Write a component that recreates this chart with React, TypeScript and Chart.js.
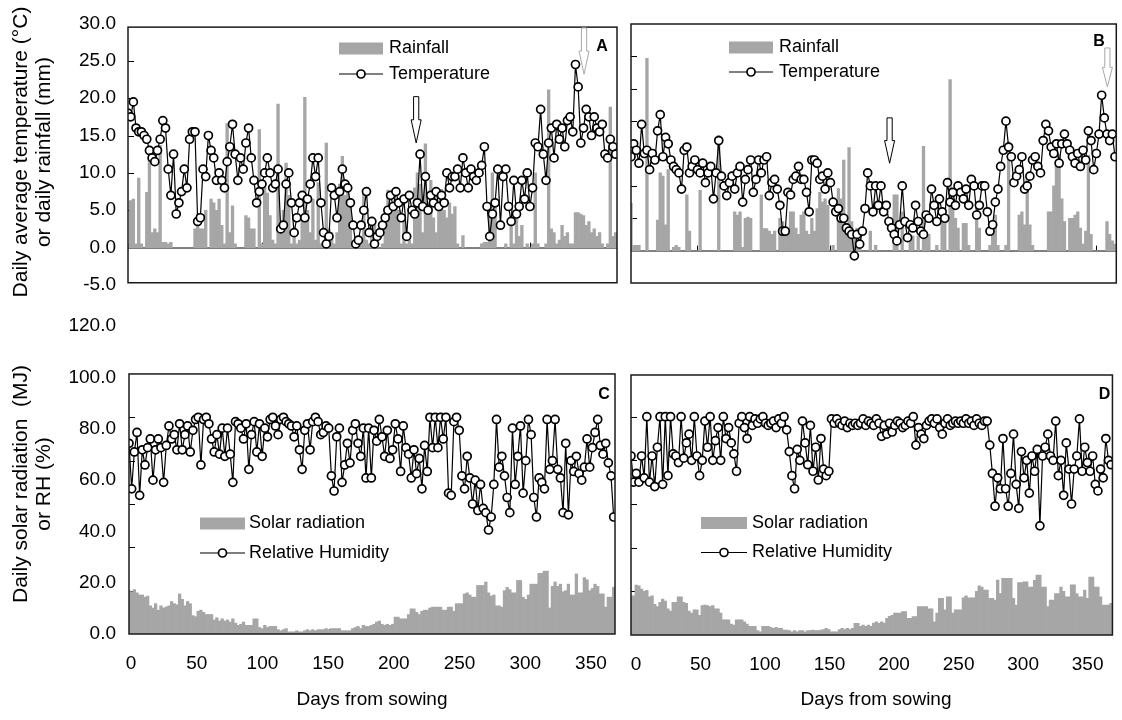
import React, { useEffect, useRef } from "react";
import { Chart, registerables } from "chart.js";

Chart.register(...registerables);

const FONT = '"Liberation Sans", Arial, Helvetica, sans-serif';
const GRAY = "#a6a6a6";

// Days from sowing (sampled every second day)
const days = Array.from({ length: 183 }, (_, i) => i * 2);
const xTickValues = [0, 50, 100, 150, 200, 250, 300, 350];
const tempTickValues = [-5, 0, 5, 10, 15, 20, 25, 30];
const solarTickValues = [0, 20, 40, 60, 80, 100, 120];
const tempMarkValues = [5, 10, 15, 20, 25];
const tempMarkValuesB = [5, 10, 15, 20, 25, 30];
const solarMarkValues = [20, 40, 60, 80, 100];
const xMarkValues = [50, 100, 150, 200, 250, 300, 350];

// Panel A
const tempA = [
  18, 17.5, 19.5, 16, 15.5, 15.5, 15, 14.5, 13, 12,
  11.5, 13, 14.5, 17, 16, 10.5, 7, 12.5, 4.5, 6,
  7.5, 10.5, 8, 14.5, 15.5, 15.5, 3.5, 4, 10.5, 9.5,
  15, 13, 12, 9, 10, 9, 8, 11.5, 13.5, 16.5,
  12.5, 9, 12, 10.5, 14, 16, 12, 9, 6, 7.5,
  8.5, 10, 12, 10, 8, 8.5, 10.5, 2.5, 3, 8.5,
  10, 6, 2, 4, 6, 7, 4, 6.5, 8.5, 12,
  9.5, 12, 6, 2, 0.5, 1.5, 8, 7, 4, 7.5,
  10.5, 8.5, 8, 6, 3, 0.5, 1, 3, 5, 7.5,
  2, 3.5, 0.5, 1.5, 2, 3, 4, 5, 7, 5.5,
  7.5, 6, 4, 6.5, 1.5, 7, 5, 4.5, 6, 12.5,
  5.5, 9.5, 5, 7, 6, 7.5, 5.5, 7, 6, 10,
  8, 9.5, 9.5, 10.5, 8, 12, 10, 8, 10.5, 9.5,
  9, 10, 11, 13.5, 5.5, 1.5, 4.5, 6, 10.5, 3,
  9.5, 10.5, 5.5, 3.5, 9, 4.5, 5.5, 9, 6.5, 10,
  5.5, 8, 14, 13.5, 18.5, 12.5, 9, 14, 16, 12,
  16.5, 14.5, 16, 13.5, 17, 17.5, 15.5, 24.5, 21.5, 14,
  16, 18.5, 17.5, 15, 17.5, 16, 15.5, 16.5, 12.5, 12,
  14.5, 13.5, 12.5,
];
const rainA = [
  0.5, 6.3, 6.5, 0.5, 9.3, 0.5, 0, 7.4, 12, 2,
  2.5, 2, 13.7, 0.7, 0.7, 0.5, 0.7, 0, 0, 0,
  0, 0, 0, 0, 0, 2.5, 4.5, 2.5, 2.5, 5,
  0, 6.5, 6, 5, 6.5, 3, 0.5, 16.6, 2, 5.6,
  0.5, 0, 0, 0, 4.3, 4, 2.5, 2.5, 0, 15.8,
  0.5, 8, 7.3, 4.3, 1, 0.5, 19.2, 3, 5, 11.3,
  7, 0.5, 2, 0.5, 1, 4, 20.1, 5, 2, 6.5,
  1, 8.7, 0.5, 0, 14, 2.5, 2, 0.5, 2, 8.5,
  12.2, 7, 8.5, 6, 0.5, 0, 0.5, 1, 7.8, 1,
  0.5, 4, 3, 0.5, 0, 0.5, 5, 7.7, 6, 5.5,
  6.5, 5, 0.5, 4, 0.5, 1, 0.5, 8, 10, 8.5,
  2, 13.9, 5, 9, 4, 2, 6, 7.8, 5, 4,
  6, 4.5, 5.5, 0.5, 0, 1.6, 0, 0, 0, 0,
  0, 0, 0.5, 0.7, 0.7, 5, 10, 6, 0, 0,
  0, 0.5, 0, 3, 0.5, 4, 1.5, 3, 0, 0.5,
  0, 0.5, 10, 0.5, 0, 0, 0.5, 21.1, 2.5, 2,
  0.5, 1, 3, 1.5, 2, 0.5, 0.5, 4.7, 4.7, 4.5,
  4.3, 3, 3.5, 2, 2.5, 1.5, 2, 0.5, 0, 0.5,
  18.8, 1.5, 2,
];

// Panel B
const tempB = [
  14.5, 16.5, 15.5, 13.5, 19.5, 15, 15.5, 12.5, 15, 14,
  18.5, 21, 14.5, 17.5, 16.5, 14, 13, 12.5, 12, 9.5,
  15.5, 16, 12, 13, 14, 12.5, 12, 13.5, 10.5, 12,
  13, 8, 12, 17, 11.5, 10, 8.5, 10.5, 11.5, 9.5,
  12, 13, 7.5, 11, 12.5, 14, 9, 11, 14, 12,
  14, 14.5, 8.5, 10.5, 11, 9.5, 7, 3, 3, 9,
  8.6, 11, 11.5, 13, 11, 11, 9, 6, 14, 14,
  13.5, 11, 11.5, 9.5, 12, 10.5, 7.5, 6, 6.5, 5,
  5, 3.5, 3, 2.5, -0.8, 2.5, 1, 3, 6.5, 12,
  10, 6, 10, 7, 10, 6, 7, 4.5, 3.5, 2.5,
  1.5, 4, 10, 4.5, 2, 4, 3.5, 7, 4.5, 3,
  2.5, 5.5, 5, 9.5, 7, 4.5, 8, 6, 5, 10.5,
  7.5, 9, 7, 10, 9, 8, 9.5, 7, 11, 10,
  5.5, 7, 10, 10, 6, 3, 4, 7.5, 9.5, 13,
  15.5, 20, 16, 14.5, 10.5, 11.5, 12.5, 14.5, 9.5, 10,
  11.5, 14, 14.5, 13, 12, 17, 19.5, 18.5, 16, 15,
  16.5, 13.5, 16.5, 18, 16.5, 15.5, 14.5, 13.5, 15, 13,
  15.5, 14, 18.5, 17, 12.5, 15, 18, 24, 20.5, 18,
  17, 18, 14.5,
];
const rainB = [
  7.3, 0.8, 0.8, 0.8, 0, 0, 29.7, 0, 0, 0,
  4.7, 12, 11.5, 4, 12.5, 0, 0.5, 0.8, 0.5, 0,
  0, 8.6, 3, 0, 0, 0, 9.3, 0, 0, 0,
  0, 0, 0, 17.8, 0, 0, 0, 0, 0, 6,
  5.5, 6, 0.5, 5, 5.2, 5, 0, 0, 0, 8.6,
  3.4, 3.4, 3, 2.5, 3, 0, 5, 4.5, 3.5, 3,
  6, 6, 3.5, 2.5, 5.5, 6, 3, 2.5, 5, 3,
  6.5, 9, 7.5, 8, 7, 0, 0.8, 0, 9.6, 8,
  14, 3.5, 15.9, 4.5, 3, 3.5, 2.5, 0, 0, 0,
  3, 0, 0.8, 0, 0, 0, 0, 0, 0, 8.6,
  8.6, 0, 6, 0, 0, 2.3, 2.3, 0, 2.3, 0,
  16.1, 2.5, 2.5, 0, 0, 0.8, 0, 5.5, 5.5, 0,
  26.4, 8.2, 5, 3.5, 0, 4.2, 4.2, 0.8, 0, 0,
  5, 3.5, 0, 0, 0, 0.8, 3, 5.5, 0.8, 0,
  0, 0.8, 16.8, 0, 0, 0, 5.5, 6, 4, 11.2,
  4, 0.8, 0, 0, 0, 0, 0, 6, 6, 10,
  14, 14.8, 8, 4.5, 0, 5, 5, 5.5, 6, 3.5,
  1, 3, 14.7, 2.5, 0, 0, 0, 0, 0, 4.5,
  2.5, 1.5, 1,
];

// Panel C
const rhC = [
  88, 67, 84, 93, 64, 85, 78, 86, 90, 71,
  85, 90, 86, 70, 87, 96, 90, 92, 85, 97,
  85, 92, 96, 84, 94, 99, 100, 78, 99, 100,
  97, 90, 84, 92, 83, 95, 82, 95, 83, 70,
  98, 97, 95, 90, 97, 76, 92, 98, 84, 97,
  82, 95, 91, 99, 100, 96, 92, 99, 100, 98,
  97, 96, 91, 96, 85, 76, 94, 97, 85, 98,
  100, 98, 92, 93, 96, 95, 73, 66, 91, 95,
  70, 78, 88, 79, 94, 97, 88, 82, 95, 72,
  95, 72, 94, 89, 99, 91, 82, 94, 81, 85,
  97, 90, 75, 96, 86, 83, 72, 85, 74, 81,
  67, 87, 75, 100, 86, 100, 86, 100, 90, 100,
  65, 64, 98, 100, 94, 73, 67, 82, 72, 60,
  71, 57, 69, 58, 56, 48, 54, 69, 99, 77,
  82, 73, 63, 56, 95, 69, 82, 96, 65, 80,
  99, 92, 63, 54, 72, 70, 67, 99, 76, 80,
  99, 76, 72, 56, 88, 55, 80, 75, 82, 74,
  71, 77, 90, 77, 86, 93, 99, 87, 83, 88,
  79, 73, 54,
];
const solarC = [
  20, 19.5, 20.5, 19, 18, 18, 17, 17.5, 13, 12,
  14, 11, 13, 12, 12.5, 13, 15, 14, 13.5, 18.5,
  16, 13, 15, 14, 8.5, 8, 10.5, 11, 10, 9,
  9, 9, 6.5, 7.5, 6, 7, 6, 6.5, 5.5, 7,
  5, 4, 4.5, 5.5, 4, 4, 4, 7, 7, 3,
  2.5, 4, 3, 3.5, 3.5, 3.5, 2, 1.5, 2, 2.5,
  1, 1, 1, 1.5, 1, 1, 1.5, 2, 1.5, 2,
  1.5, 2, 2, 2, 2.5, 2, 2.5, 2.5, 2.5, 2.5,
  1.5, 1.5, 1.5, 1.5, 2.5, 3, 3.5, 2.5, 4, 3.5,
  3.5, 4, 4.5, 5.5, 6, 4.5, 4, 4.5, 4, 4.5,
  7.8, 7.8, 7, 7, 7, 9, 11.6, 11.6, 10, 9,
  10.5, 11, 11, 12, 12.4, 12.4, 12.4, 12.4, 11, 11,
  12.4, 12.4, 10.5, 14, 14, 14, 18.5, 19, 18, 17,
  17, 22.4, 22.4, 22.4, 24, 19, 17.5, 18, 13, 13,
  12.4, 20, 21.5, 20.5, 19, 19, 24.7, 24.7, 17, 16,
  18, 23, 23, 23, 28, 28, 29, 29, 12, 22,
  24, 22, 23, 19.5, 20, 23, 18, 18, 27.7, 19,
  19, 26, 25, 20, 21, 23, 22, 18.5, 18.5, 12.4,
  17, 17, 21.6,
];

// Panel D
const rhD = [
  82, 70, 74, 70, 82, 72, 100, 70, 82, 68,
  86, 100, 69, 100, 73, 100, 83, 82, 79, 100,
  81, 88, 92, 80, 100, 82, 73, 80, 98, 86,
  100, 80, 89, 95, 80, 100, 90, 95, 88, 83,
  75, 97, 100, 95, 90, 100, 96, 99, 97, 99,
  100, 97, 96, 97, 98, 95, 99, 97, 100, 94,
  84, 73, 67, 85, 80, 98, 88, 78, 96, 75,
  86, 71, 90, 76, 73, 75, 99, 97, 99, 97,
  96, 98, 95, 97, 96, 97, 96, 97, 99, 96,
  98, 97, 96, 99, 97, 91, 96, 92, 97, 93,
  96, 98, 97, 95, 96, 98, 97, 100, 87, 95,
  92, 90, 96, 98, 99, 97, 99, 95, 92, 97,
  99, 96, 97, 98, 97, 98, 97, 99, 97, 98,
  96, 99, 97, 96, 98, 98, 87, 74, 59, 72,
  67, 90, 67, 59, 74, 92, 69, 58, 84, 72,
  80, 65, 82, 75, 85, 50, 82, 86, 92, 82,
  80, 98, 73, 80, 64, 88, 76, 60, 76, 82,
  99, 75, 86, 79, 75, 82, 69, 66, 76, 72,
  90, 80, 78,
];
const solarD = [
  18, 18, 22.9, 22.5, 21, 20, 20.5, 17.5, 18, 14,
  13, 15, 16.5, 15.5, 12, 11, 15, 15, 17.5, 17.5,
  15, 14.5, 11, 10, 11.5, 11.5, 9, 13.5, 13.7, 13.5,
  13, 13.5, 12, 12, 10, 7, 7, 7, 5, 4.5,
  7, 7, 7, 6, 5, 4, 4, 4, 2, 1.5,
  4, 4, 4, 3.5, 3, 3.5, 3, 3, 2.3, 2.3,
  2, 1.5, 2, 1.5, 2, 2, 1.5, 2, 2, 2.3,
  2, 2, 2.3, 2.5, 3, 2.5, 1.5, 1.5, 1.5, 2.5,
  3, 2.5, 3, 2.5, 3, 5.3, 5.3, 4, 4.5, 4,
  4.5, 4, 5.5, 6, 5.3, 6, 5.5, 7.6, 8.5, 9,
  10, 10, 10, 10.7, 10.7, 7.6, 7.6, 8.4, 8.4, 13,
  13, 13, 13, 12, 12, 6, 10, 16.8, 16.8, 11.5,
  17.5, 17.5, 10, 11.5, 11.5, 11.5, 17, 18, 17, 17,
  17, 20, 22.5, 22, 20.6, 20.6, 16.8, 16.8, 16, 25.2,
  19, 26, 26, 26, 26, 16.8, 13.7, 24, 24, 24.4,
  24.4, 22, 22, 25, 27.5, 27.5, 22, 22, 13, 16,
  16, 19, 19, 22, 20, 17.5, 17.5, 23, 23, 19,
  17.5, 17.5, 20.6, 16.8, 26.5, 26.5, 22, 22, 17.5, 13.7,
  13.7, 13.7, 14.5,
];

type Arrow = { day: number; top: number; tip: number; color: string };
type Txt = { text: string; x: number; y: number; size: number; bold?: boolean; rotate?: boolean; align?: CanvasTextAlign };
type Legend = { bar: string; line: string; sx: number; w: number; r1: number; r2: number; tx: number };
type Spec = {
  frameTop?: number;
  frameBottom?: number;
  zeroLine?: boolean;
  yMarks: number[];
  xMarks: number[];
  legend: Legend;
  arrows: Arrow[];
  texts: Txt[];
};

const POINT_R = 4;
const POINT_BW = 1.7;

function makeDecor(spec: Spec) {
  return {
    id: "decor",
    beforeDatasetsDraw(chart: any) {
      const { ctx, chartArea: ca } = chart;
      const xs = chart.scales.x;
      const ys = chart.scales.y;
      const bottom = spec.frameBottom !== undefined ? ys.getPixelForValue(spec.frameBottom) : ca.bottom;
      ctx.save();
      ctx.strokeStyle = "#000";
      ctx.lineWidth = 1;
      for (const v of spec.yMarks) {
        const py = Math.round(ys.getPixelForValue(v)) + 0.5;
        ctx.beginPath();
        ctx.moveTo(ca.left, py);
        ctx.lineTo(ca.left + 6, py);
        ctx.stroke();
      }
      const base = spec.zeroLine ? ys.getPixelForValue(0) : bottom;
      for (const v of spec.xMarks) {
        const px = Math.round(xs.getPixelForValue(v)) + 0.5;
        ctx.beginPath();
        ctx.moveTo(px, base);
        ctx.lineTo(px, base - 5);
        ctx.stroke();
      }
      if (spec.zeroLine) {
        ctx.lineWidth = 1.5;
        ctx.beginPath();
        ctx.moveTo(ca.left, base);
        ctx.lineTo(ca.right, base);
        ctx.stroke();
      }
      ctx.restore();
    },
    afterDatasetsDraw(chart: any) {
      const { ctx, chartArea: ca } = chart;
      const xs = chart.scales.x;
      const ys = chart.scales.y;
      const top = spec.frameTop !== undefined ? ys.getPixelForValue(spec.frameTop) : ca.top;
      const bottom = spec.frameBottom !== undefined ? ys.getPixelForValue(spec.frameBottom) : ca.bottom;
      ctx.save();
      // frame
      ctx.strokeStyle = "#1a1a1a";
      ctx.lineWidth = 1.5;
      ctx.strokeRect(ca.left, top, ca.right - ca.left, bottom - top);
      // arrows
      for (const a of spec.arrows) {
        const cx = xs.getPixelForValue(a.day);
        const ty = ys.getPixelForValue(a.top);
        const tipY = ys.getPixelForValue(a.tip);
        const sy = tipY - (tipY - ty) * 0.5;
        const sw = 2.6;
        const hw = 5;
        ctx.beginPath();
        ctx.moveTo(cx - sw, ty);
        ctx.lineTo(cx + sw, ty);
        ctx.lineTo(cx + sw, sy);
        ctx.lineTo(cx + hw, sy);
        ctx.lineTo(cx, tipY);
        ctx.lineTo(cx - hw, sy);
        ctx.lineTo(cx - sw, sy);
        ctx.closePath();
        ctx.fillStyle = "#fff";
        ctx.fill();
        ctx.strokeStyle = a.color;
        ctx.lineWidth = 1;
        ctx.stroke();
      }
      // legend
      const lg = spec.legend;
      ctx.fillStyle = GRAY;
      ctx.fillRect(lg.sx, lg.r1 - 6, lg.w, 12);
      ctx.strokeStyle = "#000";
      ctx.lineWidth = 1.2;
      ctx.beginPath();
      ctx.moveTo(lg.sx, lg.r2);
      ctx.lineTo(lg.sx + lg.w, lg.r2);
      ctx.stroke();
      ctx.beginPath();
      ctx.arc(lg.sx + lg.w / 2, lg.r2, POINT_R, 0, Math.PI * 2);
      ctx.fillStyle = "#fff";
      ctx.fill();
      ctx.lineWidth = POINT_BW;
      ctx.stroke();
      ctx.fillStyle = "#000";
      ctx.font = `18px ${FONT}`;
      ctx.textAlign = "left";
      ctx.textBaseline = "middle";
      ctx.fillText(lg.bar, lg.tx, lg.r1);
      ctx.fillText(lg.line, lg.tx, lg.r2);
      // other texts
      for (const t of spec.texts) {
        ctx.save();
        ctx.font = `${t.bold ? "bold " : ""}${t.size}px ${FONT}`;
        ctx.fillStyle = "#000";
        ctx.textAlign = t.align || "center";
        ctx.textBaseline = "middle";
        ctx.translate(t.x, t.y);
        if (t.rotate) ctx.rotate(-Math.PI / 2);
        ctx.fillText(t.text, 0, 0);
        ctx.restore();
      }
      ctx.restore();
    },
  };
}

const tickFont = { family: FONT, size: 19 };

function datasets(bar: number[], line: number[]) {
  return [
    {
      type: "line" as const,
      data: days.map((d, i) => ({ x: d, y: line[i] })),
      borderColor: "#000",
      borderWidth: 1.2,
      pointRadius: POINT_R,
      pointBackgroundColor: "#fff",
      pointBorderColor: "#000",
      pointBorderWidth: POINT_BW,
      tension: 0,
      order: 0,
      xAxisID: "x",
      yAxisID: "y",
    },
    {
      type: "bar" as const,
      data: days.map((d, i) => ({ x: d, y: bar[i] })),
      backgroundColor: GRAY,
      borderWidth: 0,
      barPercentage: 1,
      categoryPercentage: 1,
      order: 1,
      xAxisID: "x",
      yAxisID: "y",
    },
  ];
}

const hiddenX = { type: "linear", min: 0, max: 365, offset: false, display: false };

function labelAxisY(min: number, max: number, values: number[], width: number, pad: number) {
  return {
    type: "linear",
    position: "left",
    min,
    max,
    grid: { display: false, drawTicks: false },
    border: { display: false },
    ticks: { font: tickFont, color: "#000", padding: pad, callback: (v: any) => Number(v).toFixed(1) },
    afterBuildTicks: (ax: any) => {
      ax.ticks = values.map((v) => ({ value: v }));
    },
    afterFit: (ax: any) => {
      ax.width = width;
    },
  };
}

function labelAxisX(min: number, max: number) {
  return {
    type: "linear",
    position: "bottom",
    min,
    max,
    offset: false,
    grid: { display: false, drawTicks: false },
    border: { display: false },
    ticks: { font: tickFont, color: "#000", padding: 18, callback: (v: any) => String(v) },
    afterBuildTicks: (ax: any) => {
      ax.ticks = xTickValues.map((v) => ({ value: v }));
    },
    afterFit: (ax: any) => {
      ax.height = 40;
    },
  };
}

function baseOptions(padding: any, scales: any) {
  return {
    responsive: false,
    animation: false,
    events: [],
    layout: { padding },
    plugins: { legend: { display: false }, tooltip: { enabled: false } },
    scales,
  };
}

const makeA = () => ({
  type: "bar",
  data: { datasets: datasets(rainA, tempA) },
  options: baseOptions(
    { left: 0, right: 1122 - 617, top: 20, bottom: 720 - 285 },
    { x: hiddenX, y: labelAxisY(-5, 30, tempTickValues, 128, 12) }
  ),
  plugins: [
    makeDecor({
      frameTop: 29.5,
      frameBottom: -4.7,
      zeroLine: true,
      yMarks: tempMarkValues,
      xMarks: xMarkValues,
      legend: { bar: "Rainfall", line: "Temperature", sx: 339, w: 44, r1: 48.5, r2: 74, tx: 389 },
      arrows: [
        { day: 215.1, top: 20.2, tip: 14.0, color: "#000" },
        { day: 340.4, top: 29.4, tip: 23.2, color: "#a8a8a8" },
      ],
      texts: [
        { text: "Daily average temperature (°C)", x: 21, y: 152, size: 21, rotate: true },
        { text: "or daily rainfall (mm)", x: 44, y: 152, size: 21, rotate: true },
        { text: "A", x: 602, y: 47, size: 16, bold: true },
      ],
    }),
  ],
});

const makeB = () => ({
  type: "bar",
  data: { datasets: datasets(rainB, tempB) },
  options: baseOptions(
    { left: 631, right: 3, top: 24, bottom: 720 - 283 },
    { x: hiddenX, y: { type: "linear", min: -5, max: 35, display: false } }
  ),
  plugins: [
    makeDecor({
      zeroLine: true,
      yMarks: tempMarkValuesB,
      xMarks: xMarkValues,
      legend: { bar: "Rainfall", line: "Temperature", sx: 729, w: 44, r1: 47.5, r2: 72, tx: 779 },
      arrows: [
        { day: 194.5, top: 20.5, tip: 13.5, color: "#000" },
        { day: 358.3, top: 31.3, tip: 25.3, color: "#a8a8a8" },
      ],
      texts: [{ text: "B", x: 1099, y: 41.5, size: 16, bold: true }],
    }),
  ],
});

const makeC = () => ({
  type: "bar",
  data: { datasets: datasets(solarC, rhC) },
  options: baseOptions(
    { left: 0, right: 1122 - 615, top: 326, bottom: 720 - 634 - 40 },
    {
      x: hiddenX,
      y: { type: "linear", min: 0, max: 142.13, display: false },
      yl: labelAxisY(0, 120, solarTickValues, 129, 13),
      xl: labelAxisX(-1.52, 368.3),
    }
  ),
  plugins: [
    makeDecor({
      frameTop: 120,
      yMarks: solarMarkValues,
      xMarks: xMarkValues,
      legend: { bar: "Solar radiation", line: "Relative Humidity", sx: 200, w: 45, r1: 523.5, r2: 553, tx: 249 },
      arrows: [],
      texts: [
        { text: "Daily solar radiation  (MJ)", x: 21, y: 484, size: 21, rotate: true },
        { text: "or RH (%)", x: 44, y: 484, size: 21, rotate: true },
        { text: "Days from sowing", x: 372, y: 700, size: 19 },
        { text: "C", x: 604, y: 394.5, size: 16, bold: true },
      ],
    }),
  ],
});

const makeD = () => ({
  type: "bar",
  data: { datasets: datasets(solarD, rhD) },
  options: baseOptions(
    { left: 631, right: 5, top: 375, bottom: 720 - 635 - 40 },
    {
      x: hiddenX,
      y: { type: "linear", min: 0, max: 119.1, display: false },
      xl: labelAxisX(-3.84, 369.2),
    }
  ),
  plugins: [
    makeDecor({
      yMarks: solarMarkValues,
      xMarks: xMarkValues,
      legend: { bar: "Solar radiation", line: "Relative Humidity", sx: 701, w: 46, r1: 523, r2: 552.5, tx: 752 },
      arrows: [],
      texts: [
        { text: "Days from sowing", x: 876, y: 700, size: 19 },
        { text: "D", x: 1104.5, y: 395, size: 16, bold: true },
      ],
    }),
  ],
});

function ChartCanvas({ make }: { make: () => any }) {
  const ref = useRef<HTMLCanvasElement>(null);
  useEffect(() => {
    const chart = new Chart(ref.current as HTMLCanvasElement, make());
    return () => chart.destroy();
  }, [make]);
  return (
    <canvas
      ref={ref}
      width={1122}
      height={720}
      style={{ position: "absolute", left: 0, top: 0, width: 1122, height: 720 }}
    />
  );
}

export default function App() {
  return (
    <div style={{ position: "absolute", left: 0, top: 0, width: 1122, height: 720, background: "#fff", overflow: "hidden" }}>
      <ChartCanvas make={makeA} />
      <ChartCanvas make={makeB} />
      <ChartCanvas make={makeC} />
      <ChartCanvas make={makeD} />
    </div>
  );
}
